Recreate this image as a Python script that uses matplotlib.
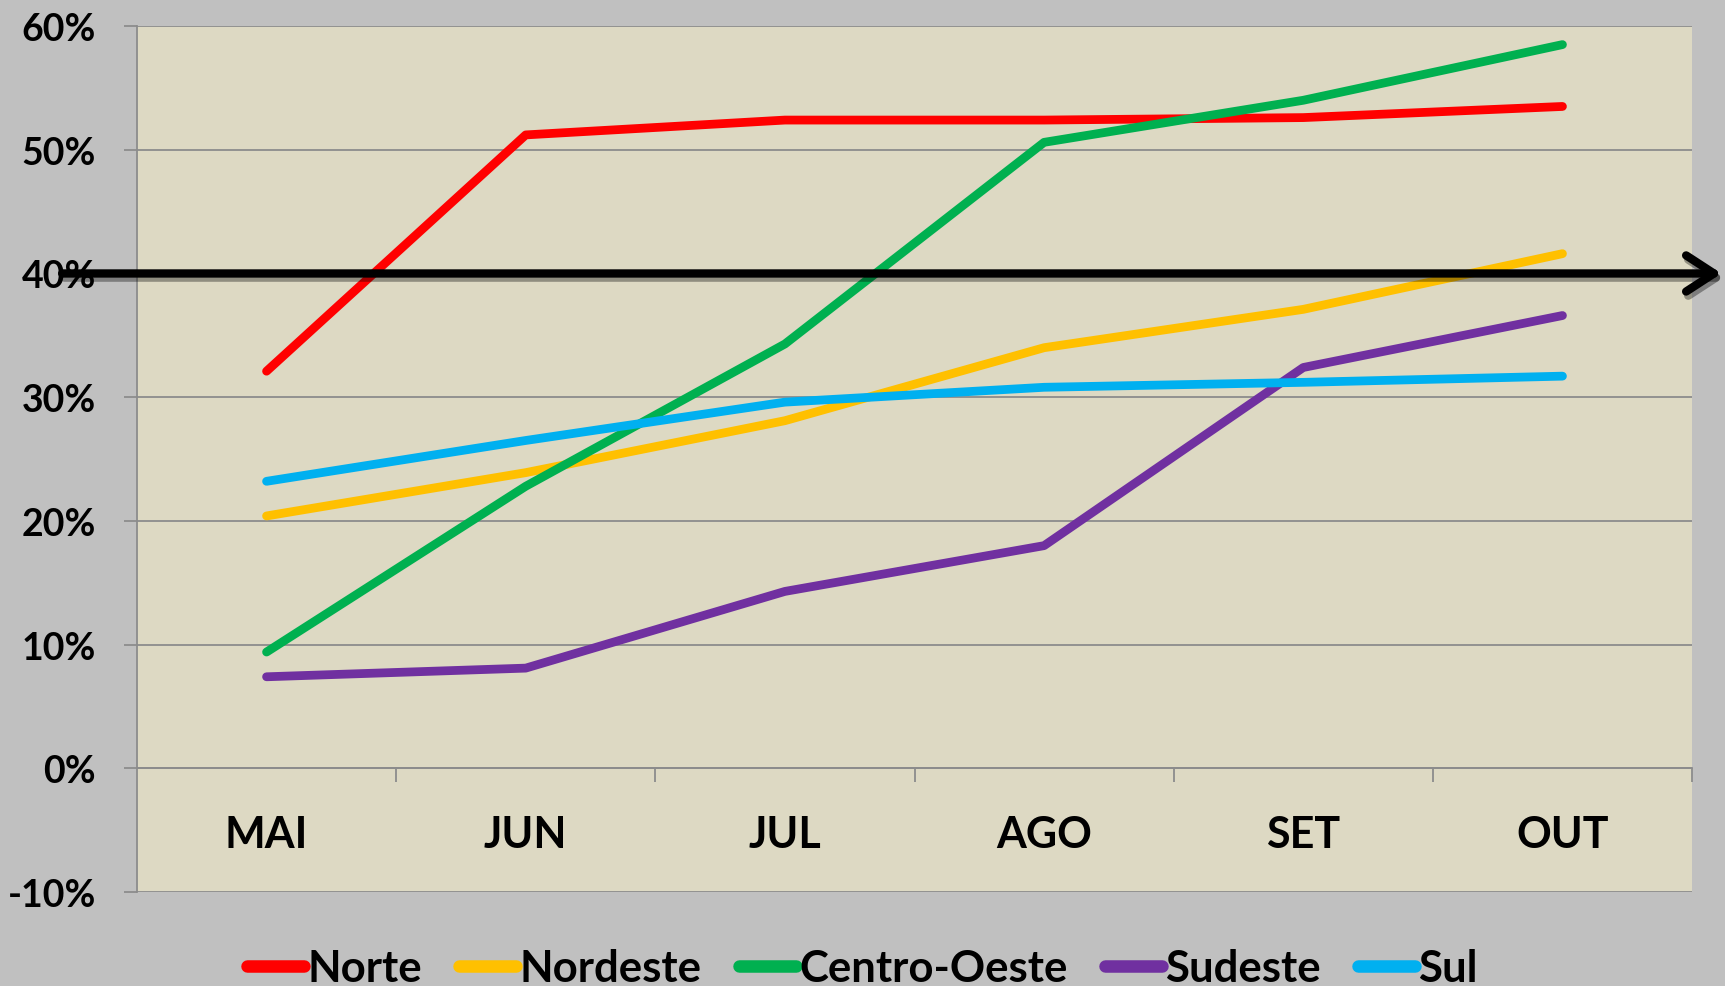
import matplotlib
matplotlib.use("Agg")
import matplotlib.pyplot as plt
import matplotlib.patheffects as pe
from matplotlib.ticker import PercentFormatter

months = ["MAI", "JUN", "JUL", "AGO", "SET", "OUT"]

norte = [32.1, 51.2, 52.4, 52.4, 52.6, 53.5]
nordeste = [20.4, 23.9, 28.1, 34.0, 37.1, 41.6]
centro_oeste = [9.4, 22.8, 34.3, 50.6, 54.0, 58.5]
sudeste = [7.4, 8.1, 14.3, 18.0, 32.4, 36.6]
sul = [23.2, 26.5, 29.6, 30.8, 31.2, 31.7]

series = [
    ("Norte", norte, "#FF0000"),
    ("Nordeste", nordeste, "#FFC000"),
    ("Centro-Oeste", centro_oeste, "#00B050"),
    ("Sudeste", sudeste, "#7030A0"),
    ("Sul", sul, "#00B0F0"),
]

meta = 40  # target line

plt.rcParams["font.family"] = ["Lato", "DejaVu Sans"]
plt.rcParams["font.weight"] = "bold"
plt.rcParams["axes.unicode_minus"] = False

fig = plt.figure(figsize=(17.25, 9.87), dpi=100, facecolor="#C0C0C0")
ax = fig.add_axes([0.0794, 0.0952, 0.9015, 0.8774])
ax.set_facecolor("#DDD9C3")

x = list(range(len(months)))
for name, vals, color in series:
    ax.plot(x, vals, color=color, lw=6.3, solid_capstyle="round", label=name, zorder=3)

grid_c = "#8C8C8C"
ax.set_ylim(-10, 60)
ax.set_xlim(-0.5, len(months) - 0.5)
ax.set_yticks(range(-10, 61, 10))
ax.yaxis.set_major_formatter(PercentFormatter(decimals=0))
ax.grid(axis="y", color=grid_c, lw=1.3, zorder=1)
ax.set_axisbelow(True)

for s in ["top", "right"]:
    ax.spines[s].set_visible(False)
ax.spines["left"].set_color(grid_c)
ax.spines["left"].set_linewidth(1.3)
ax.spines["bottom"].set_position(("data", 0))
ax.spines["bottom"].set_color(grid_c)
ax.spines["bottom"].set_linewidth(1.3)

ax.set_xticks(x)
ax.set_xticklabels(months)
ax.set_xticks([i + 0.5 for i in x], minor=True)
ax.tick_params(axis="x", which="major", length=0, pad=33, labelsize=31)
ax.tick_params(axis="x", which="minor", length=10, width=1.3, color=grid_c, direction="out")
ax.tick_params(axis="y", length=9.5, width=1.3, color=grid_c, pad=20, labelsize=27)

# target arrow at 40%
ax.annotate("", xy=(0.998, meta), xycoords=("figure fraction", "data"),
            xytext=(0.036, meta), textcoords=("figure fraction", "data"),
            arrowprops=dict(arrowstyle="->,head_length=2.0,head_width=1.3",
                            color="black", lw=6, mutation_scale=10,
                            shrinkA=0, shrinkB=0,
                            capstyle="round", joinstyle="round",
                            path_effects=[pe.SimpleLineShadow(offset=(1.5, -3), alpha=0.35),
                                          pe.Normal()]),
            annotation_clip=False, zorder=5)

leg = fig.legend(loc="center", bbox_to_anchor=(0.5, 0.018), ncol=5, frameon=False,
                 fontsize=31.5, handlelength=1.3, handletextpad=0.08, columnspacing=0.85)
for h in leg.get_lines():
    h.set_linewidth(9)

fig.savefig("out.png", dpi=100, facecolor=fig.get_facecolor())
